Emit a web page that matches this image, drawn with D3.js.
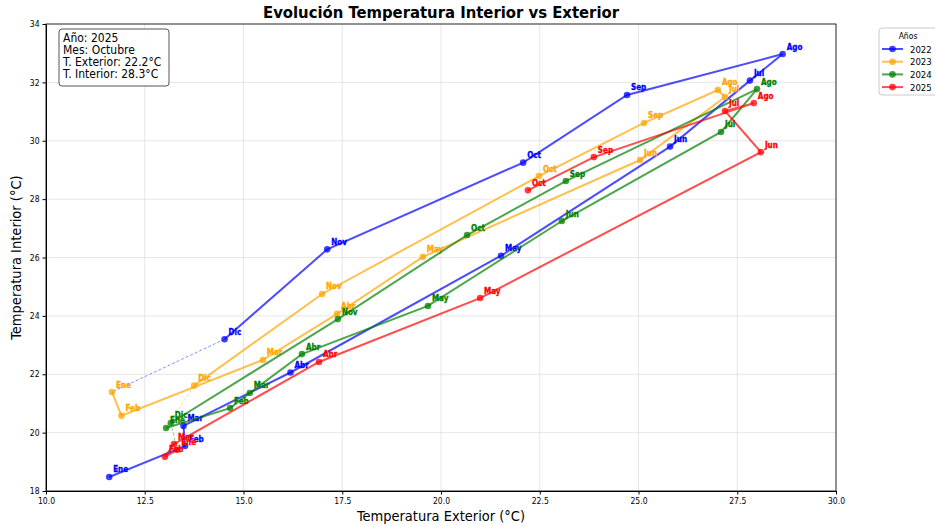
<!DOCTYPE html>
<meta charset="utf-8">
<style>
body{margin:0;background:#fff;}
text{font-family:"DejaVu Sans Condensed","DejaVu Sans",sans-serif;}
.grid line{stroke:#b0b0b0;stroke-opacity:0.3;}
.axis text{font-size:8.5px;fill:#000;}
.axis path,.axis line{stroke:#000;}
.lbl{font-size:8px;font-weight:bold;}
</style>
<body>
<script src="https://d3js.org/d3.v7.min.js"></script>
<script>

// ---------- data ----------
var meses = ["Ene","Feb","Mar","Abr","May","Jun","Jul","Ago","Sep","Oct","Nov","Dic"];
var anios = [2022, 2023, 2024, 2025];
var colores = ["blue", "orange", "green", "red"];

var ext2022 = [11.6, 13.52, 13.48, 16.19, 21.52, 25.8, 27.82, 28.65, 24.71, 22.08, 17.12, 14.52];
var int2022 = [18.48, 19.54, 20.23, 22.06, 26.06, 29.8, 32.06, 32.97, 31.57, 29.25, 26.28, 23.2];

var ext2023 = [11.67, 11.91, 15.49, 17.37, 19.54, 25.04, 27.19, 27.01, 25.14, 22.48, 16.99, 13.75];
var int2023 = [21.39, 20.58, 22.49, 24.07, 26.02, 29.34, 31.5, 31.74, 30.61, 28.79, 24.75, 21.61];

var ext2024 = [13.04, 14.66, 15.16, 16.48, 19.67, 23.06, 27.09, 28.0, 23.16, 20.66, 17.39, 13.16];
var int2024 = [20.16, 20.84, 21.36, 22.69, 24.34, 27.25, 30.3, 31.77, 28.62, 26.77, 23.89, 20.33];

var ext2025 = [13.32, 13.01, 13.24, 16.91, 20.99, 28.1, 27.19, 27.92, 23.87, 22.2];
var int2025 = [19.41, 19.17, 19.61, 22.42, 24.61, 29.61, 31.02, 31.29, 29.44, 28.3];

var xTicks = [10, 12.5, 15, 17.5, 20, 22.5, 25, 27.5, 30];
var yTicks = [18, 20, 22, 24, 26, 28, 30, 32, 34];

var series = [
    {anio: 2022, ext: ext2022, int: int2022},
    {anio: 2023, ext: ext2023, int: int2023},
    {anio: 2024, ext: ext2024, int: int2024},
    {anio: 2025, ext: ext2025, int: int2025}
];

// ---------- layout ----------
var W = 935, H = 526;
var m = {left: 46, right: 99, top: 24, bottom: 35};
var iw = W - m.left - m.right, ih = H - m.top - m.bottom;

var svg = d3.select("body").append("svg").attr("width", W).attr("height", H);
var g = svg.append("g").attr("transform", "translate(" + m.left + "," + m.top + ")");

var x = d3.scaleLinear().domain([10, 30]).range([0, iw]);
var y = d3.scaleLinear().domain([18, 34]).range([ih, 0]);

// grid
g.append("g").attr("class", "grid").selectAll("line").data(xTicks).join("line")
    .attr("x1", d => x(d)).attr("x2", d => x(d)).attr("y1", 0).attr("y2", ih);
g.append("g").attr("class", "grid").selectAll("line").data(yTicks).join("line")
    .attr("y1", d => y(d)).attr("y2", d => y(d)).attr("x1", 0).attr("x2", iw);

// axes
g.append("g").attr("class", "axis").attr("transform", "translate(0," + ih + ")")
    .call(d3.axisBottom(x).tickValues(xTicks).tickFormat(d3.format(".1f")).tickSize(3.5).tickSizeOuter(0));
g.append("g").attr("class", "axis")
    .call(d3.axisLeft(y).tickValues(yTicks).tickFormat(d3.format("d")).tickSize(3.5).tickSizeOuter(0));
g.append("rect").attr("width", iw).attr("height", ih)
    .attr("fill", "none").attr("stroke", "#000").attr("stroke-width", 0.8);

// dashed connectors between years
for (var i = 0; i < series.length - 1; i++) {
    var a = series[i], b = series[i + 1], n = a.ext.length - 1;
    g.append("line")
        .attr("x1", x(a.ext[n])).attr("y1", y(a.int[n]))
        .attr("x2", x(b.ext[0])).attr("y2", y(b.int[0]))
        .attr("stroke", colores[i]).attr("stroke-opacity", 0.45)
        .attr("stroke-width", 1).attr("stroke-dasharray", "3,2");
}

var line = d3.line().x(d => x(d[0])).y(d => y(d[1]));

series.forEach(function (s, i) {
    var pts = s.ext.map((v, k) => [v, s.int[k], meses[k]]);
    var sg = g.append("g");
    sg.append("path").datum(pts).attr("d", line)
        .attr("fill", "none").attr("stroke", colores[i])
        .attr("stroke-width", 2).attr("stroke-opacity", 0.7);
    sg.selectAll("circle").data(pts).join("circle")
        .attr("cx", d => x(d[0])).attr("cy", d => y(d[1])).attr("r", 3.3)
        .attr("fill", colores[i]).attr("fill-opacity", 0.75);
    sg.selectAll("text").data(pts).join("text").attr("class", "lbl")
        .attr("x", d => x(d[0]) + 4).attr("y", d => y(d[1]) - 4.5)
        .attr("fill", colores[i]).attr("stroke", colores[i]).attr("stroke-width", 0.3)
        .text(d => d[2]);
});

// info box
var info = ["Año: 2025", "Mes: Octubre", "T. Exterior: 22.2°C", "T. Interior: 28.3°C"];
svg.append("rect").attr("x", 59).attr("y", 29).attr("width", 110).attr("height", 57)
    .attr("rx", 3).attr("fill", "#fff").attr("fill-opacity", 0.85)
    .attr("stroke", "#555").attr("stroke-width", 1);
svg.append("g").selectAll("text").data(info).join("text")
    .attr("x", 63).attr("y", (d, k) => 42 + k * 12)
    .style("font-size", "12px").text(d => d);

// title and axis labels
svg.append("text").attr("x", m.left + iw / 2).attr("y", 18).attr("text-anchor", "middle")
    .style("font-size", "16.5px").style("font-weight", "bold")
    .text("Evolución Temperatura Interior vs Exterior");
svg.append("text").attr("x", m.left + iw / 2).attr("y", 521).attr("text-anchor", "middle")
    .style("font-size", "14.5px").text("Temperatura Exterior (°C)");
svg.append("text").attr("transform", "translate(21," + (m.top + ih / 2) + ") rotate(-90)")
    .attr("text-anchor", "middle").style("font-size", "14.5px")
    .text("Temperatura Interior (°C)");

// legend
var lg = svg.append("g").attr("transform", "translate(879,28)");
lg.append("rect").attr("width", 70).attr("height", 67).attr("rx", 3)
    .attr("fill", "#fff").attr("stroke", "#ccc");
lg.append("text").attr("x", 29).attr("y", 11).attr("text-anchor", "middle")
    .style("font-size", "8.5px").text("Años");
anios.forEach(function (a, i) {
    var yy = 21 + i * 12.7;
    lg.append("line").attr("x1", 3).attr("x2", 24).attr("y1", yy).attr("y2", yy)
        .attr("stroke", colores[i]).attr("stroke-width", 2).attr("stroke-opacity", 0.7);
    lg.append("circle").attr("cx", 13.5).attr("cy", yy).attr("r", 3.3)
        .attr("fill", colores[i]).attr("fill-opacity", 0.75);
    lg.append("text").attr("x", 31).attr("y", yy + 3.5).style("font-size", "9.5px").text(a);
});

</script>
</body>
</html>
